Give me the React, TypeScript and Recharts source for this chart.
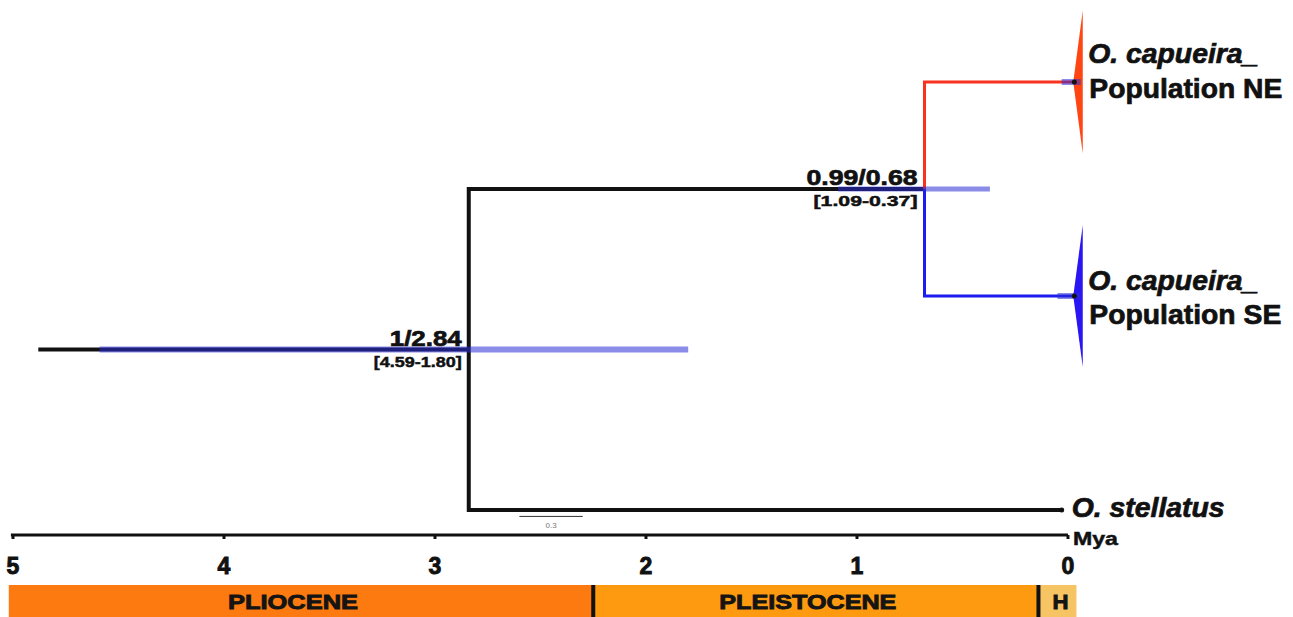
import {
  ComposedChart,
  Line,
  Area,
  Scatter,
  XAxis,
  YAxis,
  ReferenceLine,
  ReferenceArea,
  ReferenceDot,
} from "recharts";

// tips, top to bottom (row index)
const tipRows = [0, 1, 2];
const tipTitles = ["O. capueira_", "O. capueira_", "O. stellatus"];
const tipSubtitles = ["Population NE", "Population SE", ""];
const tipAges = [-0.03, -0.03, 0.03];

// node ages in Mya
const stemAge = 4.88;
const crownAge = 2.84;
const capueiraAge = 0.68;
const crownHpd = [4.59, 1.8];
const capueiraHpd = [1.09, 0.37];
const nodeSupport = ["1/2.84", "0.99/0.68"];
const nodeHpdText = ["[4.59-1.80]", "[1.09-0.37]"];

// tip HPD bars (NE, SE)
const tipHpdStart = [0.03, 0.05];
const tipHpdEnd = [-0.06, -0.06];

// collapsed clades (NE, SE)
const cladeApexAge = -0.025;
const cladeEdgeAge = -0.07;
const cladeHalfSpread = [0.334, 0.332];

// time axis
const timeTicks = [5, 4, 3, 2, 1, 0];
const axisStartAge = 5.01;
const scaleBarAges = [2.6, 2.3];
const scaleBarText = "0.3";

// epochs
const epochNames = ["PLIOCENE", "PLEISTOCENE", "H"];
const epochStarts = [5.02, 2.25, 0.14];
const epochEnds = [2.25, 0.14, -0.04];

// layout
const W = 1293;
const TREE_H = 585;
const EPOCH_H = 32;
const X_DOMAIN: [number, number] = [-1.0664, 5.0616];
const Y_DOMAIN: [number, number] = [-0.3832, 2.1168];
const FONT = "'Liberation Sans', Arial, Helvetica, sans-serif";

const INK = "#111";
const RED = "#f8321f";
const BLUE = "#1b1bf2";
const HPD = "#2b2bd6";
const epochColors = ["#fd7a10", "#fd9a10", "#f7c463"];
const titleWidths = [170, 170, 153];
const subtitleWidths = [193, 192, 0];
const titleDx = [14, 14, 10];
const titleDy = [-19, -6, 7];
const subtitleDy = [16, 28, 0];
const supportWidths = [72, 111];
const hpdWidths = [88, 104];
const epochTextWidths = [130, 177, 16];

// heavier look for the bold labels
const heavy = { fill: INK, stroke: INK, strokeWidth: 0.7, fontWeight: 700 };

const capY = (tipRows[0] + tipRows[1]) / 2;
const crownY = (capY + tipRows[2]) / 2;

const stemBranch = [
  { x: stemAge, y: crownY },
  { x: crownAge, y: crownY },
];
const blackBranch = [
  { x: capueiraAge, y: capY },
  { x: crownAge, y: capY },
  { x: crownAge, y: tipRows[2] },
  { x: tipAges[2], y: tipRows[2] },
];
const neBranch = [
  { x: capueiraAge, y: capY },
  { x: capueiraAge, y: tipRows[0] },
  { x: tipAges[0], y: tipRows[0] },
];
const seBranch = [
  { x: capueiraAge, y: capY },
  { x: capueiraAge, y: tipRows[1] },
  { x: tipAges[1], y: tipRows[1] },
];
const crownHpdBar = crownHpd.map((x) => ({ x, y: crownY }));
const capHpdBar = capueiraHpd.map((x) => ({ x, y: capY }));
const tipHpdBars = [0, 1].map((i) => [
  { x: tipHpdStart[i], y: tipRows[i] },
  { x: tipHpdEnd[i], y: tipRows[i] },
]);
const clades = [0, 1].map((i) => [
  { x: cladeApexAge, r: [tipRows[i], tipRows[i]] },
  { x: cladeEdgeAge, r: [tipRows[i] - cladeHalfSpread[i], tipRows[i] + cladeHalfSpread[i]] },
]);
const tipPoints = tipRows.map((row, i) => ({ x: tipAges[i], y: row, i }));
const nodePoints = [
  { x: crownAge, y: crownY, i: 0 },
  { x: capueiraAge, y: capY, i: 1 },
];
const scaleBarRow = tipRows[2] + 0.03;
const scaleBar = scaleBarAges.map((x) => ({ x, y: scaleBarRow }));
const scaleBarMid = [{ x: (scaleBarAges[0] + scaleBarAges[1]) / 2, y: scaleBarRow }];
const epochMids = epochNames.map((name, i) => ({
  x: (epochStarts[i] + epochEnds[i]) / 2,
  y: 0.5,
  i,
}));

const TipLabel = (props: any) => {
  const { cx, cy, payload } = props;
  const i = payload.i;
  const x = cx + titleDx[i];
  return (
    <g>
      <circle cx={cx} cy={cy} r={2.5} fill={INK} />
      <text
        x={x}
        y={cy + titleDy[i]}
        fontSize={28}
        fontStyle="italic"
        {...heavy}
        textLength={titleWidths[i]}
        lengthAdjust="spacingAndGlyphs"
      >
        {tipTitles[i]}
      </text>
      {tipSubtitles[i] && (
        <text
          x={x + 1}
          y={cy + subtitleDy[i]}
          fontSize={27}
          {...heavy}
          textLength={subtitleWidths[i]}
          lengthAdjust="spacingAndGlyphs"
        >
          {tipSubtitles[i]}
        </text>
      )}
    </g>
  );
};

const NodeLabel = (props: any) => {
  const { cx, cy, payload } = props;
  const i = payload.i;
  return (
    <g>
      <text
        x={cx - 7}
        y={cy - 4}
        textAnchor="end"
        fontSize={22}
        {...heavy}
        textLength={supportWidths[i]}
        lengthAdjust="spacingAndGlyphs"
      >
        {nodeSupport[i]}
      </text>
      <text
        x={cx - 7}
        y={cy + 17}
        textAnchor="end"
        fontSize={15.5}
        {...heavy}
        strokeWidth={0.5}
        textLength={hpdWidths[i]}
        lengthAdjust="spacingAndGlyphs"
      >
        {nodeHpdText[i]}
      </text>
    </g>
  );
};

const ScaleLabel = (props: any) => (
  <text x={props.cx} y={props.cy + 12} textAnchor="middle" fontSize={8} fill="#777">
    {scaleBarText}
  </text>
);

const MyaLabel = (props: any) => (
  <text
    x={props.cx + 5}
    y={props.cy + 10}
    fontSize={19}
    {...heavy}
    strokeWidth={0.5}
    textLength={45}
    lengthAdjust="spacingAndGlyphs"
  >
    Mya
  </text>
);

const EpochLabel = (props: any) => {
  const { cx, payload } = props;
  const i = payload.i;
  return (
    <text
      x={cx - (i === 2 ? -3 : 8)}
      y={EPOCH_H / 2 + 8}
      textAnchor="middle"
      fontSize={21}
      {...heavy}
      fill="#141414"
      stroke="#141414"
      strokeWidth={0.9}
      textLength={epochTextWidths[i]}
      lengthAdjust="spacingAndGlyphs"
    >
      {epochNames[i]}
    </text>
  );
};

const branchProps = {
  type: "linear" as const,
  dataKey: "y",
  dot: false,
  activeDot: false,
  isAnimationActive: false,
  strokeLinejoin: "miter" as const,
};

const App = () => {
  return (
    <div style={{ position: "absolute", left: 0, top: 0, width: W, fontFamily: FONT, background: "#fff" }}>
      <ComposedChart width={W} height={TREE_H} margin={{ top: 0, right: 0, bottom: 0, left: 0 }}>
        <XAxis
          type="number"
          dataKey="x"
          domain={X_DOMAIN}
          reversed
          allowDataOverflow
          ticks={timeTicks}
          interval={0}
          height={50}
          axisLine={false}
          tickLine={{ stroke: INK, strokeWidth: 3 }}
          tickSize={4}
          tickMargin={19}
          tick={{ fill: INK, stroke: INK, strokeWidth: 0.9, fontSize: 23, fontWeight: 700 }}
        />
        <YAxis type="number" dataKey="y" domain={Y_DOMAIN} reversed allowDataOverflow hide />
        <Area
          data={clades[0]}
          dataKey="r"
          type="linear"
          stroke="none"
          fill="#ff4512"
          fillOpacity={1}
          dot={false}
          activeDot={false}
          isAnimationActive={false}
        />
        <Area
          data={clades[1]}
          dataKey="r"
          type="linear"
          stroke="none"
          fill="#2a16f2"
          fillOpacity={1}
          dot={false}
          activeDot={false}
          isAnimationActive={false}
        />
        <Line {...branchProps} data={stemBranch} stroke={INK} strokeWidth={4} />
        <Line {...branchProps} data={blackBranch} stroke={INK} strokeWidth={4} />
        <Line {...branchProps} data={neBranch} stroke={RED} strokeWidth={3} />
        <Line {...branchProps} data={seBranch} stroke={BLUE} strokeWidth={3} />
        <Line {...branchProps} data={scaleBar} stroke="#333" strokeWidth={1} />
        <Line {...branchProps} data={crownHpdBar} stroke={HPD} strokeOpacity={0.55} strokeWidth={6} />
        <Line {...branchProps} data={capHpdBar} stroke={HPD} strokeOpacity={0.55} strokeWidth={5} />
        <Line {...branchProps} data={tipHpdBars[0]} stroke={HPD} strokeOpacity={0.55} strokeWidth={6} />
        <Line {...branchProps} data={tipHpdBars[1]} stroke={HPD} strokeOpacity={0.55} strokeWidth={6} />
        <Scatter data={tipPoints} dataKey="y" shape={TipLabel} isAnimationActive={false} />
        <Scatter data={nodePoints} dataKey="y" shape={NodeLabel} isAnimationActive={false} />
        <Scatter data={scaleBarMid} dataKey="y" shape={ScaleLabel} isAnimationActive={false} />
        <ReferenceLine
          segment={[
            { x: axisStartAge, y: Y_DOMAIN[1] },
            { x: 0, y: Y_DOMAIN[1] },
          ]}
          stroke={INK}
          strokeWidth={3}
          ifOverflow="visible"
        />
        <ReferenceDot x={0} y={Y_DOMAIN[1]} r={0} ifOverflow="visible" shape={MyaLabel} />
      </ComposedChart>
      <ComposedChart width={W} height={EPOCH_H} margin={{ top: 0, right: 0, bottom: 0, left: 0 }}>
        <XAxis type="number" dataKey="x" domain={X_DOMAIN} reversed allowDataOverflow hide />
        <YAxis type="number" dataKey="y" domain={[0, 1]} allowDataOverflow hide />
        {epochNames.map((name, i) => (
          <ReferenceArea
            key={name}
            x1={epochStarts[i]}
            x2={epochEnds[i]}
            y1={0}
            y2={1}
            fill={epochColors[i]}
            fillOpacity={1}
            stroke="none"
            ifOverflow="visible"
          />
        ))}
        <ReferenceLine x={epochEnds[0]} stroke={INK} strokeWidth={4} ifOverflow="visible" />
        <ReferenceLine x={epochEnds[1]} stroke={INK} strokeWidth={4} ifOverflow="visible" />
        <Scatter data={epochMids} dataKey="y" shape={EpochLabel} isAnimationActive={false} />
      </ComposedChart>
    </div>
  );
};

export default App;
